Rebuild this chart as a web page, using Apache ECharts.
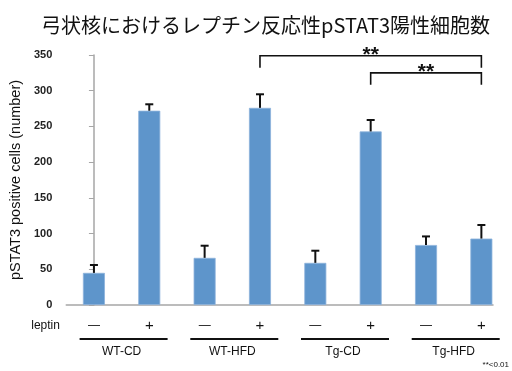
<!DOCTYPE html>
<html>
<head>
<meta charset="utf-8">
<script src="https://cdn.jsdelivr.net/npm/echarts@6/dist/echarts.min.js"></script>
<style>
  html, body { margin: 0; padding: 0; background: #fff; }
  #chart { width: 512px; height: 371px; }
</style>
</head>
<body>
<div id="chart"></div>
<script>
// pSTAT3-positive cell counts in the arcuate nucleus, per group and leptin treatment
const groups = ['WT-CD', 'WT-HFD', 'Tg-CD', 'Tg-HFD'];
const leptinSigns = ['\u2014', '+', '\u2014', '+', '\u2014', '+', '\u2014', '+'];
const cellCounts = [45, 272, 66, 276, 59, 243, 84, 93];
const errorUp = [11, 9, 17, 19, 17, 16, 12, 19];
const yTicks = [0, 50, 100, 150, 200, 250, 300, 350];
// significance comparisons (bar index pairs) and their bracket levels
const comparisons = [[3, 7], [5, 7]];
const bracketLevels = [349, 325];

const BAR_COLOR = '#5E95CB';
const FONT = '"Liberation Sans", Arial, sans-serif';

const chart = echarts.init(document.getElementById('chart'), null, { renderer: 'canvas' });

const barData = cellCounts.map((v, i) => [i, v]);
const errData = cellCounts.map((v, i) => [i, v, v + errorUp[i]]);
const signData = leptinSigns.map((s, i) => [i, 0, s]);
const groupData = groups.map((g, i) => [i * 2, i * 2 + 1, g]);
const bracketData = comparisons.map((c, i) => [c[0], c[1], bracketLevels[i]]);

chart.setOption({
  animation: false,
  title: {
    text: '弓状核におけるレプチン反応性pSTAT3陽性細胞数',
    left: 36,
    top: 10,
    textStyle: {
      fontFamily: '"Noto Sans CJK JP", sans-serif',
      fontSize: 20,
      fontWeight: 'normal',
      color: '#111'
    }
  },
  grid: { left: 63, right: 19, top: 55, bottom: 66, containLabel: false },
  xAxis: {
    type: 'value',
    min: -0.5,
    max: 7.21,
    axisLine: { show: true, onZero: false, lineStyle: { color: '#a6a6a6', width: 1.5 } },
    axisTick: { show: false },
    axisLabel: { show: false },
    splitLine: { show: false }
  },
  yAxis: {
    type: 'value',
    min: yTicks[0],
    max: yTicks[yTicks.length - 1],
    interval: 50,
    name: 'pSTAT3 positive cells (number)',
    nameLocation: 'middle',
    nameGap: 42,
    nameTextStyle: { fontFamily: FONT, fontSize: 14.5, color: '#111' },
    axisLine: { show: true, lineStyle: { color: '#a6a6a6', width: 1.5 } },
    axisTick: { show: true, length: 5, lineStyle: { color: '#a6a6a6' } },
    axisLabel: { fontFamily: FONT, fontSize: 11, color: '#222', margin: 14, fontWeight: 'bold' },
    splitLine: { show: false }
  },
  series: [
    {
      type: 'bar',
      data: barData,
      barWidth: 22,
      itemStyle: { color: BAR_COLOR, borderColor: '#8DB3DC', borderWidth: 0.8 },
      z: 2
    },
    {
      // upward error bars
      type: 'custom',
      data: errData,
      z: 3,
      renderItem: function (params, api) {
        const base = api.coord([api.value(0), api.value(1)]);
        const top = api.coord([api.value(0), api.value(2)]);
        const cap = 4;
        return {
          type: 'group',
          children: [
            { type: 'line', shape: { x1: base[0], y1: base[1], x2: top[0], y2: top[1] },
              style: { stroke: '#111', lineWidth: 2 } },
            { type: 'line', shape: { x1: top[0] - cap, y1: top[1], x2: top[0] + cap, y2: top[1] },
              style: { stroke: '#111', lineWidth: 2 } }
          ]
        };
      }
    },
    {
      // leptin -/+ row under each bar
      type: 'custom',
      data: signData,
      clip: false,
      silent: true,
      renderItem: function (params, api) {
        const p = api.coord([api.value(0), 0]);
        const s = leptinSigns[params.dataIndex];
        const children = [{
          type: 'text',
          style: { text: s, x: p[0], y: p[1] + 21, align: 'center', verticalAlign: 'middle',
                   font: (s === '+' ? '15px ' : '12px ') + FONT, fill: '#111' }
        }];
        if (params.dataIndex === 0) {
          children.push({
            type: 'text',
            style: { text: 'leptin', x: p[0] - 34, y: p[1] + 21, align: 'right', verticalAlign: 'middle',
                     font: '12px ' + FONT, fill: '#111' }
          });
        }
        return { type: 'group', children: children };
      }
    },
    {
      // group underline and name
      type: 'custom',
      data: groupData,
      clip: false,
      silent: true,
      renderItem: function (params, api) {
        const a = api.coord([api.value(0), 0]);
        const b = api.coord([api.value(1), 0]);
        const cx = (a[0] + b[0]) / 2 + 2;
        const y = a[1] + 34;
        return {
          type: 'group',
          children: [
            { type: 'line', shape: { x1: cx - 44, y1: y, x2: cx + 44, y2: y },
              style: { stroke: '#111', lineWidth: 2 } },
            { type: 'text', style: { text: groups[params.dataIndex], x: cx - 2, y: y + 13,
                align: 'center', verticalAlign: 'middle', font: '12px ' + FONT, fill: '#111' } }
          ]
        };
      }
    },
    {
      // significance brackets
      type: 'custom',
      data: bracketData,
      clip: false,
      silent: true,
      renderItem: function (params, api) {
        const l = api.coord([api.value(0), api.value(2)]);
        const r = api.coord([api.value(1), api.value(2)]);
        const leg = 12;
        return {
          type: 'group',
          children: [
            { type: 'polyline', shape: { points: [[l[0], l[1] + leg], [l[0], l[1]], [r[0], r[1]], [r[0], r[1] + leg]] },
              style: { stroke: '#111', lineWidth: 1.6, fill: null } },
            { type: 'text', style: { text: '**', x: (l[0] + r[0]) / 2, y: l[1] - 1,
                align: 'center', verticalAlign: 'middle', font: 'bold 21px ' + FONT, fill: '#111' } }
          ]
        };
      }
    }
  ],
  graphic: [
    { type: 'text', right: 3, bottom: 2,
      style: { text: '**<0.01', font: '8px ' + FONT, fill: '#111' } }
  ]
});
</script>
</body>
</html>
